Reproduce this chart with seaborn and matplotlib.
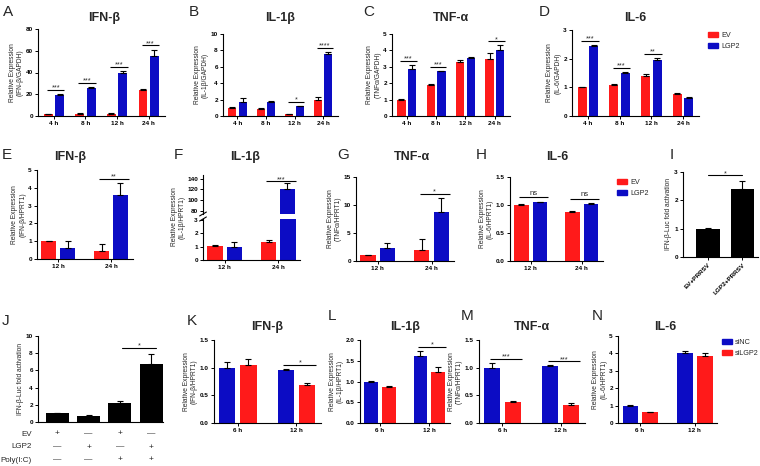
import matplotlib
matplotlib.use("Agg")
import matplotlib.pyplot as plt
from matplotlib.patches import Patch
from matplotlib.ticker import FormatStrFormatter
import pandas as pd
import seaborn as sns

W, H = 760, 466
RED = "#ff1a1a"
BLUE = "#0c0cc4"

# ---------------- data ----------------
TIMES_4 = ["4 h", "8 h", "12 h", "24 h"]
TIMES_2 = ["12 h", "24 h"]
TIMES_K = ["6 h", "12 h"]
GROUPS_OE = ["EV", "LGP2"]
GROUPS_KD = ["siNC", "siLGP2"]

A_EV = [1.5, 2.0, 2.0, 24.0]
A_EV_ERR = [0.2, 0.3, 0.3, 1.2]
A_LGP2 = [19.5, 25.5, 39.5, 55.0]
A_LGP2_ERR = [0.6, 1.0, 1.5, 6.0]
A_SIG = ["***", "***", "***", "***"]

B_EV = [1.0, 0.9, 0.25, 2.0]
B_EV_ERR = [0.05, 0.05, 0.03, 0.3]
B_LGP2 = [1.75, 1.65, 1.2, 7.55]
B_LGP2_ERR = [0.4, 0.15, 0.05, 0.3]
B_SIG = ["", "", "*", "****"]

C_EV = [1.0, 1.9, 3.3, 3.5]
C_EV_ERR = [0.03, 0.05, 0.1, 0.33]
C_LGP2 = [2.85, 2.72, 3.55, 4.05]
C_LGP2_ERR = [0.27, 0.03, 0.05, 0.25]
C_SIG = ["***", "***", "", "*"]

D_EV = [1.0, 1.08, 1.38, 0.78]
D_EV_ERR = [0.02, 0.02, 0.1, 0.03]
D_LGP2 = [2.45, 1.5, 1.95, 0.63]
D_LGP2_ERR = [0.03, 0.02, 0.06, 0.03]
D_SIG = ["***", "***", "**", ""]

E_EV = [1.0, 0.45]
E_EV_ERR = [0.03, 0.4]
E_LGP2 = [0.6, 3.6]
E_LGP2_ERR = [0.4, 0.65]
E_SIG = ["", "**"]

F_EV = [1.05, 1.35]
F_EV_ERR = [0.04, 0.15]
F_LGP2 = [0.95, 120.0]
F_LGP2_ERR = [0.4, 12.0]
F_SIG = ["", "***"]

G_EV = [1.0, 2.0]
G_EV_ERR = [0.1, 2.0]
G_LGP2 = [2.3, 8.8]
G_LGP2_ERR = [1.0, 2.5]
G_SIG = ["", "*"]

H_EV = [1.0, 0.88]
H_EV_ERR = [0.01, 0.02]
H_LGP2 = [1.05, 1.02]
H_LGP2_ERR = [0.01, 0.01]
H_SIG = ["ns", "ns"]

I_LABELS = ["EV+PRRSV", "LGP2+PRRSV"]
I_VALS = [1.0, 2.4]
I_ERR = [0.02, 0.3]
I_SIG = "*"

J_CONDS = ["EV", "LGP2", "EV+Poly(I:C)", "LGP2+Poly(I:C)"]
J_VALS = [1.0, 0.75, 2.2, 6.7]
J_ERR = [0.05, 0.1, 0.2, 1.25]
J_SIG = "*"
J_ROWS = ["EV", "LGP2", "Poly(I:C)"]
J_EV = ["+", "—", "+", "—"]
J_LGP2 = ["—", "+", "—", "+"]
J_POLY = ["—", "—", "+", "+"]

K_NC = [1.0, 0.95]
K_NC_ERR = [0.1, 0.03]
K_KD = [1.04, 0.69]
K_KD_ERR = [0.11, 0.04]
K_SIG = ["", "*"]

L_NC = [1.0, 1.62]
L_NC_ERR = [0.02, 0.12]
L_KD = [0.86, 1.22]
L_KD_ERR = [0.03, 0.12]
L_SIG = ["", "*"]

M_NC = [1.0, 1.03]
M_NC_ERR = [0.08, 0.01]
M_KD = [0.38, 0.33]
M_KD_ERR = [0.02, 0.03]
M_SIG = ["***", "***"]

N_NC = [1.0, 4.02]
N_NC_ERR = [0.01, 0.12]
N_KD = [0.62, 3.85]
N_KD_ERR = [0.02, 0.2]
N_SIG = ["", ""]

# ---------------- style ----------------
sns.set_theme(style="ticks")
plt.rcParams["font.family"] = ["Liberation Sans", "DejaVu Sans"]
plt.rcParams["axes.linewidth"] = 0.8

fig = plt.figure(figsize=(W / 100, H / 100), dpi=100)


def px_axes(l, t, r, b):
    return fig.add_axes([l / W, 1 - b / H, (r - l) / W, (b - t) / H])


def style(ax, ylim, yticks, ylabel, fmt=None):
    ax.set_ylim(*ylim)
    ax.set_yticks(yticks)
    if fmt:
        ax.yaxis.set_major_formatter(FormatStrFormatter(fmt))
    ax.set_xlabel("")
    ax.set_ylabel(ylabel, fontsize=4.8, labelpad=1.5, linespacing=1.15)
    sns.despine(ax=ax)
    for s in ("left", "bottom"):
        ax.spines[s].set_linewidth(0.8)
        ax.spines[s].set_color("black")
    ax.tick_params(axis="both", length=2.5, width=0.7, pad=1.2,
                   labelsize=4.6, color="black", labelcolor="black")
    for lab in ax.get_xticklabels() + ax.get_yticklabels():
        lab.set_fontweight("bold")


def add_err(ax, conts, errs):
    for cont, err in zip(conts, errs):
        for bar, e in zip(cont, err):
            x = bar.get_x() + bar.get_width() / 2
            ax.errorbar(x, bar.get_height(), yerr=[[0], [e]], fmt="none",
                        ecolor="black", elinewidth=0.8, capsize=2.0,
                        capthick=0.8)


def grouped(ax, times, groups, vals, errs, colors):
    frames = [pd.DataFrame({"time": times, "group": g, "value": v})
              for g, v in zip(groups, vals)]
    df = pd.concat(frames, ignore_index=True)
    sns.barplot(data=df, x="time", y="value", hue="group", order=times,
                hue_order=groups, palette=dict(zip(groups, colors)),
                errorbar=None, width=0.72, gap=0.22, saturation=1,
                legend=False, ax=ax, linewidth=0)
    conts = [list(c) for c in ax.containers]
    add_err(ax, conts, errs)
    return conts


def sig_marks(ax, conts, errs, sig, yr, frac=0.05):
    for ti, s in enumerate(sig):
        if not s:
            continue
        bars = [cont[ti] for cont in conts]
        tops = [b.get_height() + e[ti] for b, e in zip(bars, errs)]
        y = max(tops) + frac * yr
        w = bars[0].get_width()
        x0 = bars[0].get_x() + 0.35 * w
        x1 = bars[-1].get_x() + 1.05 * w
        ax.plot([x0, x1], [y, y], color="black", lw=0.8,
                solid_capstyle="butt", clip_on=False)
        if s == "ns":
            ax.text((x0 + x1) / 2, y + 0.01 * yr, s, ha="center",
                    va="bottom", fontsize=5.5)
        else:
            ax.text((x0 + x1) / 2, y + 0.004 * yr, s, ha="center",
                    va="baseline", fontsize=5.2)


def title(x, y, s):
    fig.text(x / W, 1 - y / H, s, ha="center", va="center",
             fontsize=9, fontweight="bold")


def letter(x, y, s):
    fig.text(x / W, 1 - y / H, s, ha="center", va="center", fontsize=11)


def legend(groups, colors, x, y):
    handles = [Patch(facecolor=c, edgecolor=c, label=g)
               for g, c in zip(groups, colors)]
    fig.legend(handles=handles, loc="upper left",
               bbox_to_anchor=(x / W, 1 - y / H), frameon=False,
               fontsize=5.2, handlelength=1.4, handleheight=0.7,
               handletextpad=0.4, labelspacing=0.5, borderpad=0,
               borderaxespad=0)


def panel(rect, times, groups, vals, errs, colors, sig, ylim, yticks,
          ylabel, fmt=None):
    ax = px_axes(*rect)
    conts = grouped(ax, times, groups, vals, errs, colors)
    style(ax, ylim, yticks, ylabel, fmt)
    sig_marks(ax, conts, errs, sig, ylim[1] - ylim[0])
    return ax


OE = [RED, BLUE]
KD = [BLUE, RED]

# ---------------- row 1 ----------------
panel((38, 29, 165, 116), TIMES_4, GROUPS_OE, [A_EV, A_LGP2],
      [A_EV_ERR, A_LGP2_ERR], OE, A_SIG, (0, 80), [0, 20, 40, 60, 80],
      "Relative Expression\n(IFN-β/GAPDH)")
panel((223, 34, 338, 116), TIMES_4, GROUPS_OE, [B_EV, B_LGP2],
      [B_EV_ERR, B_LGP2_ERR], OE, B_SIG, (0, 10), [0, 2, 4, 6, 8, 10],
      "Relative Expression\n(IL-1β/GAPDH)")
panel((392, 34, 510, 116), TIMES_4, GROUPS_OE, [C_EV, C_LGP2],
      [C_EV_ERR, C_LGP2_ERR], OE, C_SIG, (0, 5), [0, 1, 2, 3, 4, 5],
      "Relative Expression\n(TNFα/GAPDH)")
panel((572, 30, 699, 116), TIMES_4, GROUPS_OE, [D_EV, D_LGP2],
      [D_EV_ERR, D_LGP2_ERR], OE, D_SIG, (0, 3), [0, 1, 2, 3],
      "Relative Expression\n(IL-6/GAPDH)")
legend(GROUPS_OE, OE, 708, 32)
for x, s in [(104, "IFN-β"), (280, "IL-1β"), (451, "TNF-α"), (635, "IL-6")]:
    title(x, 18, s)
for x, s in [(8, "A"), (194, "B"), (369, "C"), (544, "D")]:
    letter(x, 12, s)

# ---------------- row 2 ----------------
panel((37, 170, 133, 259), TIMES_2, GROUPS_OE, [E_EV, E_LGP2],
      [E_EV_ERR, E_LGP2_ERR], OE, E_SIG, (0, 5), [0, 1, 2, 3, 4, 5],
      "Relative Expression\n(IFN-β/HPRT1)")

# F : broken axis
axFt = px_axes(203, 175, 300, 214)
cFt = grouped(axFt, TIMES_2, GROUPS_OE, [F_EV, F_LGP2],
              [F_EV_ERR, F_LGP2_ERR], OE)
style(axFt, (74, 147), [80, 100, 120, 140], "")
axFt.spines["bottom"].set_visible(False)
axFt.tick_params(axis="x", bottom=False, labelbottom=False)
sig_marks(axFt, cFt, [F_EV_ERR, F_LGP2_ERR], F_SIG, 73)
axFb = px_axes(203, 219, 300, 260)
grouped(axFb, TIMES_2, GROUPS_OE, [F_EV, F_LGP2], [F_EV_ERR, F_LGP2_ERR], OE)
style(axFb, (0, 3.05), [0, 1, 2, 3], "")
for ax, yy in [(axFt, 0.0), (axFb, 1.0)]:
    ax.plot([-0.035, 0.035], [yy - 0.05, yy + 0.05], transform=ax.transAxes,
            color="black", lw=0.8, clip_on=False)
fig.text(178 / W, 1 - 217 / H, "Relative Expression\n(IL-1β/HPRT1)",
         rotation=90, ha="center", va="center", fontsize=4.8,
         linespacing=1.15, multialignment="center")

panel((356, 177, 454, 261), TIMES_2, GROUPS_OE, [G_EV, G_LGP2],
      [G_EV_ERR, G_LGP2_ERR], OE, G_SIG, (0, 15), [0, 5, 10, 15],
      "Relative Expression\n(TNFα/HPRT1)")
panel((510, 177, 603, 261), TIMES_2, GROUPS_OE, [H_EV, H_LGP2],
      [H_EV_ERR, H_LGP2_ERR], OE, H_SIG, (0, 1.5), [0, 0.5, 1.0, 1.5],
      "Relative Expression\n(IL-6/HPRT1)", fmt="%.1f")
legend(GROUPS_OE, OE, 617, 179)

# I
axI = px_axes(683, 172, 758, 257)
dfI = pd.DataFrame({"cond": I_LABELS, "value": I_VALS})
sns.barplot(data=dfI, x="cond", y="value", color="black", errorbar=None,
            width=0.68, saturation=1, ax=axI, linewidth=0)
bI = list(axI.containers[0])
add_err(axI, [bI], [I_ERR])
style(axI, (0, 3), [0, 1, 2, 3], "IFN-β-Luc fold activation")
axI.set_xlim(-0.72, 1.45)
for lab in axI.get_xticklabels():
    lab.set_rotation(45)
    lab.set_ha("right")
    lab.set_rotation_mode("anchor")
yI = max(b.get_height() + e for b, e in zip(bI, I_ERR)) + 0.06 * 3
xa = bI[0].get_x() + bI[0].get_width() / 2
xb = bI[1].get_x() + bI[1].get_width() / 2
axI.plot([xa, xb], [yI, yI], color="black", lw=0.8, clip_on=False)
axI.text((xa + xb) / 2, yI + 0.01, I_SIG, ha="center", va="baseline",
         fontsize=5.2)

for x, s in [(70, "IFN-β"), (245, "IL-1β"), (412, "TNF-α"), (557, "IL-6")]:
    title(x, 157, s)
for x, s in [(7, "E"), (178, "F"), (343, "G"), (481, "H"), (672, "I")]:
    letter(x, 155, s)

# ---------------- row 3 ----------------
axJ = px_axes(38, 336, 163, 422)
dfJ = pd.DataFrame({"cond": J_CONDS, "value": J_VALS})
sns.barplot(data=dfJ, x="cond", y="value", color="black", errorbar=None,
            width=0.73, saturation=1, ax=axJ, linewidth=0)
bJ = list(axJ.containers[0])
add_err(axJ, [bJ], [J_ERR])
style(axJ, (0, 10), [0, 2, 4, 6, 8, 10], "IFN-β-Luc fold activation")
axJ.set_xlim(-0.62, 3.38)
axJ.tick_params(axis="x", length=0, labelbottom=False)
yJ = max(b.get_height() + e for b, e in zip(bJ, J_ERR)) + 0.07 * 10
xa = bJ[2].get_x() + bJ[2].get_width() * 0.6
xb = bJ[3].get_x() + bJ[3].get_width() * 0.7
axJ.plot([xa, xb], [yJ, yJ], color="black", lw=0.8, clip_on=False)
axJ.text((xa + xb) / 2, yJ + 0.05, J_SIG, ha="center", va="baseline",
         fontsize=5.2)
trJ = axJ.get_xaxis_transform()
for row_y, name, signs in [(434, J_ROWS[0], J_EV), (447, J_ROWS[1], J_LGP2),
                           (460, J_ROWS[2], J_POLY)]:
    yf = (422 - row_y) / (422 - 336)
    fig.text(32 / W, 1 - row_y / H, name, ha="right", va="center",
             fontsize=5.8)
    for i, s in enumerate(signs):
        axJ.text(i, yf, s, transform=trJ, ha="center", va="center",
                 fontsize=6, clip_on=False)

panel((214, 340, 321, 423), TIMES_K, GROUPS_KD, [K_NC, K_KD],
      [K_NC_ERR, K_KD_ERR], KD, K_SIG, (0, 1.5), [0, 0.5, 1.0, 1.5],
      "Relative Expression\n(IFN-β/HPRT1)", fmt="%.1f")
panel((360, 340, 450, 423), TIMES_K, GROUPS_KD, [L_NC, L_KD],
      [L_NC_ERR, L_KD_ERR], KD, L_SIG, (0, 2.0), [0, 0.5, 1.0, 1.5, 2.0],
      "Relative Expression\n(IL-1β/HPRT1)", fmt="%.1f")
panel((479, 340, 585, 423), TIMES_K, GROUPS_KD, [M_NC, M_KD],
      [M_NC_ERR, M_KD_ERR], KD, M_SIG, (0, 1.5), [0, 0.5, 1.0, 1.5],
      "Relative Expression\n(TNFα/HPRT1)", fmt="%.1f")
panel((618, 336, 717, 423), TIMES_K, GROUPS_KD, [N_NC, N_KD],
      [N_NC_ERR, N_KD_ERR], KD, N_SIG, (0, 5), [0, 1, 2, 3, 4, 5],
      "Relative Expression\n(IL-6/HPRT1)")
legend(GROUPS_KD, KD, 722, 339)

for x, s in [(267, "IFN-β"), (405, "IL-1β"), (532, "TNF-α"), (665, "IL-6")]:
    title(x, 327, s)
for x, s in [(6, "J"), (192, "K"), (332, "L"), (467, "M"), (597, "N")]:
    letter(x, 321 if s in "JK" else 316, s)

fig.savefig("out.png", dpi=100)
